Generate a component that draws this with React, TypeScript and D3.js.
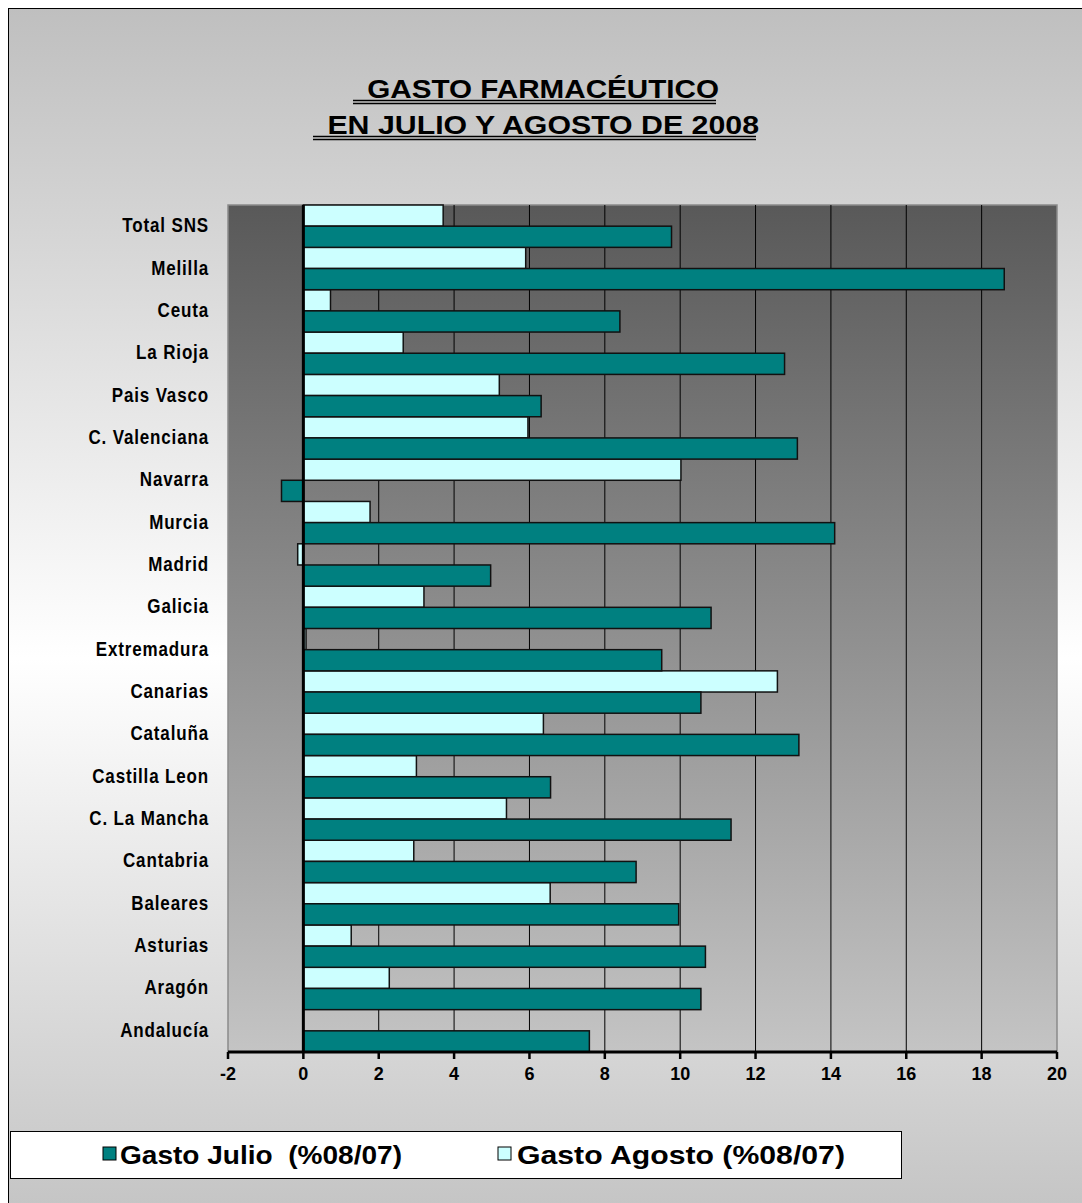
import React, { useEffect, useRef } from "react";
import * as d3 from "d3";

// categories listed bottom to top, as in the source sheet
const categories = [
  "Andalucía",
  "Aragón",
  "Asturias",
  "Baleares",
  "Cantabria",
  "C. La Mancha",
  "Castilla Leon",
  "Cataluña",
  "Canarias",
  "Extremadura",
  "Galicia",
  "Madrid",
  "Murcia",
  "Navarra",
  "C. Valenciana",
  "Pais Vasco",
  "La Rioja",
  "Ceuta",
  "Melilla",
  "Total SNS",
];

const julio = [
  7.59, 10.55, 10.67, 9.96, 8.83, 11.35, 6.56, 13.15, 10.55, 9.51, 10.82, 4.97,
  14.1, -0.58, 13.11, 6.31, 12.77, 8.4, 18.6, 9.77,
];

const agosto: (number | null)[] = [
  null, 2.28, 1.27, 6.55, 2.93, 5.39, 3.0, 6.37, 12.58, 0.07, 3.2, -0.15, 1.77,
  10.02, 5.96, 5.2, 2.65, 0.72, 5.9, 3.71,
];

const xTicks = [-2, 0, 2, 4, 6, 8, 10, 12, 14, 16, 18, 20];

const titleLines = [" GASTO FARMACÉUTICO", " EN JULIO Y AGOSTO DE 2008"];
const seriesNames = ["Gasto Julio  (%08/07)", "Gasto Agosto (%08/07)"];

const JULIO_COLOR = "#008080";
const AGOSTO_COLOR = "#ccffff";
const FONT = "'Liberation Sans', Arial, sans-serif";

const W = 1082;
const H = 1203;

const App: React.FC = () => {
  const ref = useRef<SVGSVGElement | null>(null);

  useEffect(() => {
    if (!ref.current) return;
    const root = d3.select(ref.current);
    root.selectAll("*").remove();

    const defs = root.append("defs");
    const bg = defs
      .append("linearGradient")
      .attr("id", "bgGrad")
      .attr("x1", 0)
      .attr("y1", 0)
      .attr("x2", 0)
      .attr("y2", 1);
    bg.append("stop").attr("offset", "0").attr("stop-color", "#bfbfbf");
    bg.append("stop").attr("offset", "0.53").attr("stop-color", "#ffffff");
    bg.append("stop").attr("offset", "1").attr("stop-color", "#c2c2c2");

    const pg = defs
      .append("linearGradient")
      .attr("id", "plotGrad")
      .attr("x1", 0)
      .attr("y1", 0)
      .attr("x2", 0)
      .attr("y2", 1);
    pg.append("stop").attr("offset", "0").attr("stop-color", "#595959");
    pg.append("stop").attr("offset", "1").attr("stop-color", "#c4c4c4");

    const g = root.append("g");

    // chart area, runs past the right and bottom edges of the page
    g.append("rect")
      .attr("x", 8.5)
      .attr("y", 8.5)
      .attr("width", 1110)
      .attr("height", 1225)
      .attr("fill", "url(#bgGrad)")
      .attr("stroke", "#000")
      .attr("stroke-width", 1);

    // title
    const titleY = [98, 134];
    const titleLen = [350, 430];
    titleLines.forEach((t, i) => {
      g.append("text")
        .attr("x", 539)
        .attr("y", titleY[i])
        .attr("text-anchor", "middle")
        .attr("font-family", FONT)
        .attr("font-weight", "bold")
        .attr("font-size", 26)
        .attr("textLength", titleLen[i] + 10)
        .attr("lengthAdjust", "spacingAndGlyphs")
        .attr("xml:space", "preserve")
        .text(t);
      const x0 = 539 - titleLen[i] / 2 - 11;
      const x1 = 539 + titleLen[i] / 2 + 2;
      [2.5, 5.5].forEach((off) => {
        g.append("line")
          .attr("x1", x0)
          .attr("x2", x1)
          .attr("y1", titleY[i] + off)
          .attr("y2", titleY[i] + off)
          .attr("stroke", "#000")
          .attr("stroke-width", 1.5);
      });
    });

    const left = 228;
    const right = 1057;
    const top = 205;
    const bottom = 1052;

    const x = d3.scaleLinear().domain([-2, 20]).range([left, right]);
    const y = d3
      .scaleBand<string>()
      .domain(categories.slice().reverse())
      .range([top, bottom])
      .padding(0);
    const sub = d3
      .scaleBand<string>()
      .domain(["agosto", "julio"])
      .range([0, y.bandwidth()]);

    g.append("rect")
      .attr("x", left)
      .attr("y", top)
      .attr("width", right - left)
      .attr("height", bottom - top)
      .attr("fill", "url(#plotGrad)")
      .attr("stroke", "#8a8a8a")
      .attr("stroke-width", 1.5);

    // gridlines
    g.append("g")
      .selectAll("line")
      .data(xTicks.filter((d) => d > 0 && d < 20))
      .enter()
      .append("line")
      .attr("x1", (d) => x(d))
      .attr("x2", (d) => x(d))
      .attr("y1", top)
      .attr("y2", bottom)
      .attr("stroke", "#000")
      .attr("stroke-width", 1);

    const drawBars = (vals: (number | null)[], key: string, color: string) => {
      g.append("g")
        .selectAll("rect")
        .data(categories.map((c, i) => ({ c, v: vals[i] })).filter((d) => d.v !== null))
        .enter()
        .append("rect")
        .attr("x", (d) => x(Math.min(0, d.v as number)))
        .attr("width", (d) => Math.abs(x(d.v as number) - x(0)))
        .attr("y", (d) => (y(d.c) as number) + (sub(key) as number))
        .attr("height", sub.bandwidth())
        .attr("fill", color)
        .attr("stroke", "#111")
        .attr("stroke-width", 1.5);
    };
    drawBars(agosto, "agosto", AGOSTO_COLOR);
    drawBars(julio, "julio", JULIO_COLOR);

    // zero line
    g.append("line")
      .attr("x1", x(0))
      .attr("x2", x(0))
      .attr("y1", top)
      .attr("y2", bottom)
      .attr("stroke", "#000")
      .attr("stroke-width", 3);

    // x axis
    const axis = g.append("g").attr("transform", `translate(0,${bottom})`);
    axis
      .append("line")
      .attr("x1", left)
      .attr("x2", right)
      .attr("stroke", "#000")
      .attr("stroke-width", 3);
    axis
      .selectAll(".tick")
      .data(xTicks)
      .enter()
      .append("line")
      .attr("x1", (d) => x(d))
      .attr("x2", (d) => x(d))
      .attr("y1", 0)
      .attr("y2", 7)
      .attr("stroke", "#000")
      .attr("stroke-width", 2.5);
    axis
      .selectAll(".lbl")
      .data(xTicks)
      .enter()
      .append("text")
      .attr("x", (d) => x(d))
      .attr("y", 28)
      .attr("text-anchor", "middle")
      .attr("font-family", FONT)
      .attr("font-weight", "bold")
      .attr("font-size", 18)
      .text((d) => String(d));

    // category labels
    g.append("g")
      .selectAll("text")
      .data(categories)
      .enter()
      .append("text")
      .attr(
        "transform",
        (d) => `translate(209,${(y(d) as number) + y.bandwidth() / 2 + 6}) scale(0.85,1)`
      )
      .attr("text-anchor", "end")
      .attr("font-family", FONT)
      .attr("font-weight", "bold")
      .attr("font-size", 20)
      .attr("letter-spacing", 1)
      .text((d) => d);

    // legend
    const lg = g.append("g");
    lg.append("rect")
      .attr("x", 10.5)
      .attr("y", 1131.5)
      .attr("width", 891)
      .attr("height", 47)
      .attr("fill", "#fff")
      .attr("stroke", "#000")
      .attr("stroke-width", 1);
    const items = [
      { name: seriesNames[0], color: JULIO_COLOR, sx: 103, tx: 120, len: 282 },
      { name: seriesNames[1], color: AGOSTO_COLOR, sx: 498, tx: 517, len: 328 },
    ];
    items.forEach((it) => {
      lg.append("rect")
        .attr("x", it.sx)
        .attr("y", 1147)
        .attr("width", 13)
        .attr("height", 13)
        .attr("fill", it.color)
        .attr("stroke", "#000")
        .attr("stroke-width", 1);
      lg.append("text")
        .attr("x", it.tx)
        .attr("y", 1164)
        .attr("font-family", FONT)
        .attr("font-weight", "bold")
        .attr("font-size", 26)
        .attr("textLength", it.len)
        .attr("lengthAdjust", "spacingAndGlyphs")
        .attr("xml:space", "preserve")
        .text(it.name);
    });
  }, []);

  return (
    <svg
      ref={ref}
      width={W}
      height={H}
      style={{ position: "absolute", left: 0, top: 0, display: "block" }}
    ></svg>
  );
};

export default App;
